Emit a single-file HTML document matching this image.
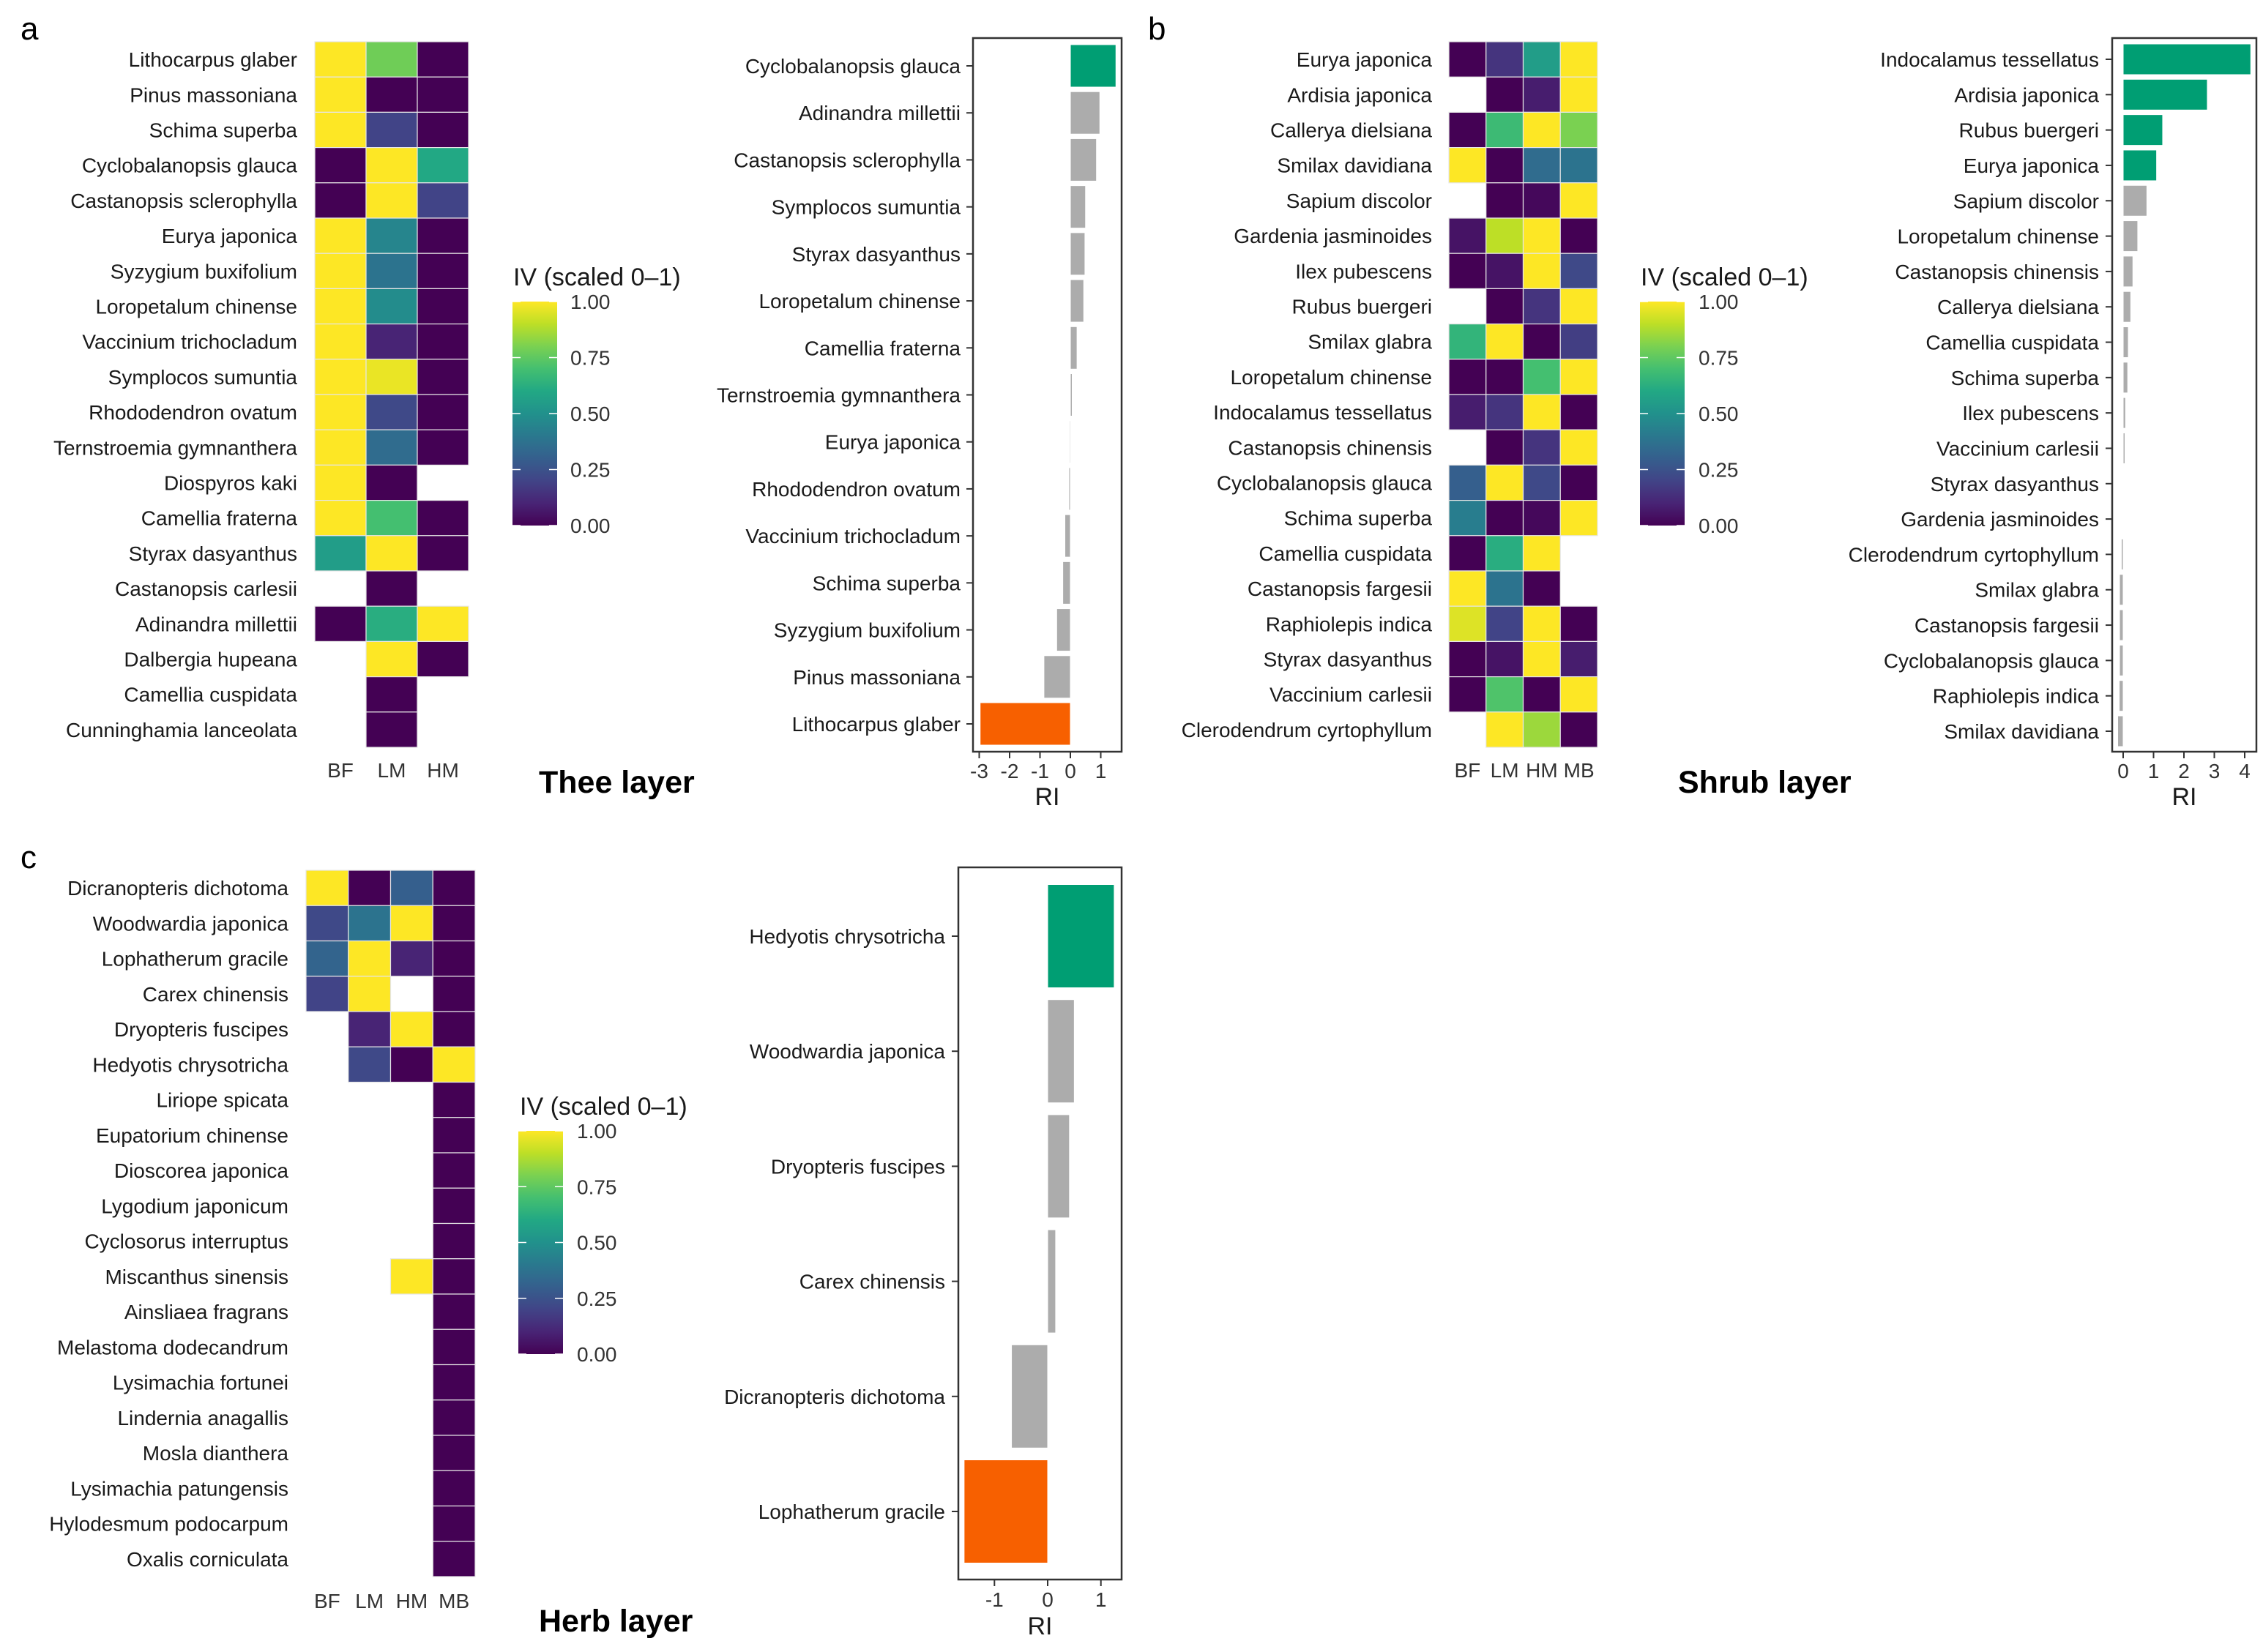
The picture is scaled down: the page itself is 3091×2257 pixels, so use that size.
<!DOCTYPE html>
<html><head><meta charset="utf-8"><style>
html,body{margin:0;padding:0;background:#fff}
svg{display:block;font-family:"Liberation Sans",Arial,sans-serif}
</style></head><body>
<svg id="fig" width="3091" height="2257" viewBox="0 0 3091 2257"></svg>
<script>
// ---------- Data ----------
const treeSpecies=["Lithocarpus glaber","Pinus massoniana","Schima superba","Cyclobalanopsis glauca","Castanopsis sclerophylla","Eurya japonica","Syzygium buxifolium","Loropetalum chinense","Vaccinium trichocladum","Symplocos sumuntia","Rhododendron ovatum","Ternstroemia gymnanthera","Diospyros kaki","Camellia fraterna","Styrax dasyanthus","Castanopsis carlesii","Adinandra millettii","Dalbergia hupeana","Camellia cuspidata","Cunninghamia lanceolata"];
const treeCols=["BF","LM","HM"];
const treeIV=[[1,0.78,0],[1,0,0],[1,0.2,0],[0,1,0.6],[0,1,0.2],[1,0.45,0],[1,0.38,0],[1,0.48,0],[1,0.1,0],[1,0.97,0],[1,0.22,0],[1,0.35,0],[1,0,null],[1,0.7,0],[0.55,1,0],[null,0,null],[0,0.62,1],[null,1,0],[null,0,null],[null,0,null]];
const treeRISpecies=["Cyclobalanopsis glauca","Adinandra millettii","Castanopsis sclerophylla","Symplocos sumuntia","Styrax dasyanthus","Loropetalum chinense","Camellia fraterna","Ternstroemia gymnanthera","Eurya japonica","Rhododendron ovatum","Vaccinium trichocladum","Schima superba","Syzygium buxifolium","Pinus massoniana","Lithocarpus glaber"];
const treeRI=[1.5,0.97,0.86,0.5,0.48,0.44,0.22,0.06,-0.03,-0.05,-0.18,-0.25,-0.45,-0.87,-2.97];
const treeTicks=[-3,-2,-1,0,1];

const shrubSpecies=["Eurya japonica","Ardisia japonica","Callerya dielsiana","Smilax davidiana","Sapium discolor","Gardenia jasminoides","Ilex pubescens","Rubus buergeri","Smilax glabra","Loropetalum chinense","Indocalamus tessellatus","Castanopsis chinensis","Cyclobalanopsis glauca","Schima superba","Camellia cuspidata","Castanopsis fargesii","Raphiolepis indica","Styrax dasyanthus","Vaccinium carlesii","Clerodendrum cyrtophyllum"];
const shrubCols=["BF","LM","HM","MB"];
const shrubIV=[[0,0.15,0.55,1],[null,0,0.08,1],[0,0.68,1,0.8],[1,0,0.35,0.38],[null,0,0.02,1],[0.05,0.9,1,0],[0,0.05,1,0.22],[null,0,0.15,1],[0.65,1,0,0.18],[0,0,0.7,1],[0.08,0.15,1,0],[null,0,0.15,1],[0.3,1,0.22,0],[0.42,0,0.02,1],[0,0.62,1,null],[1,0.38,0,null],[0.95,0.2,1,0],[0,0.05,1,0.08],[0,0.72,0,1],[null,1,0.85,0]];
const shrubRISpecies=["Indocalamus tessellatus","Ardisia japonica","Rubus buergeri","Eurya japonica","Sapium discolor","Loropetalum chinense","Castanopsis chinensis","Callerya dielsiana","Camellia cuspidata","Schima superba","Ilex pubescens","Vaccinium carlesii","Styrax dasyanthus","Gardenia jasminoides","Clerodendrum cyrtophyllum","Smilax glabra","Castanopsis fargesii","Cyclobalanopsis glauca","Raphiolepis indica","Smilax davidiana"];
const shrubRI=[4.2,2.77,1.3,1.1,0.78,0.48,0.32,0.25,0.17,0.15,0.08,0.06,0.02,0.01,-0.06,-0.12,-0.12,-0.12,-0.13,-0.18];
const shrubTicks=[0,1,2,3,4];

const herbSpecies=["Dicranopteris dichotoma","Woodwardia japonica","Lophatherum gracile","Carex chinensis","Dryopteris fuscipes","Hedyotis chrysotricha","Liriope spicata","Eupatorium chinense","Dioscorea japonica","Lygodium japonicum","Cyclosorus interruptus","Miscanthus sinensis","Ainsliaea fragrans","Melastoma dodecandrum","Lysimachia fortunei","Lindernia anagallis","Mosla dianthera","Lysimachia patungensis","Hylodesmum podocarpum","Oxalis corniculata"];
const herbCols=["BF","LM","HM","MB"];
const herbIV=[[1,0,0.3,0],[0.22,0.38,1,0],[0.32,1,0.1,0],[0.2,1,null,0],[null,0.1,1,0],[null,0.22,0,1],[null,null,null,0],[null,null,null,0],[null,null,null,0],[null,null,null,0],[null,null,null,0],[null,null,1,0],[null,null,null,0],[null,null,null,0],[null,null,null,0],[null,null,null,0],[null,null,null,0],[null,null,null,0],[null,null,null,0],[null,null,null,0]];
const herbRISpecies=["Hedyotis chrysotricha","Woodwardia japonica","Dryopteris fuscipes","Carex chinensis","Dicranopteris dichotoma","Lophatherum gracile"];
const herbRI=[1.25,0.5,0.41,0.15,-0.68,-1.57];
const herbTicks=[-1,0,1];
const legendTicks=["0.00","0.25","0.50","0.75","1.00"];

// ---------- Helpers ----------
const NS="http://www.w3.org/2000/svg";
const svg=document.getElementById('fig');
function mk(tag,attrs,parent,text){const e=document.createElementNS(NS,tag);for(const k in attrs)e.setAttribute(k,attrs[k]);if(text!==undefined)e.textContent=text;(parent||svg).appendChild(e);return e;}
const vstops=["#440154","#482475","#414487","#355f8d","#2a788e","#21918c","#22a884","#44bf70","#7ad151","#bddf26","#fde725"];
function hex(h){return [1,3,5].map(i=>parseInt(h.substr(i,2),16));}
function viridis(t){t=Math.max(0,Math.min(1,t));const p=t*10,i=Math.min(9,Math.floor(p)),f=p-i;const a=hex(vstops[i]),b=hex(vstops[i+1]);return 'rgb('+a.map((v,k)=>Math.round(v+(b[k]-v)*f)).join(',')+')';}

function heatmap(name,species,cols,vals,x0,x1,y0,y1,labelX,colLabelY){
  const g=mk('g',{},svg);
  const cw=(x1-x0)/cols.length,rh=(y1-y0)/species.length;
  species.forEach((s,r)=>{
    const t=mk('text',{x:labelX,y:y0+rh*(r+0.5)+10,'text-anchor':'end','font-size':28,fill:'#1a1a1a'},g,s);
    
    cols.forEach((c,j)=>{const v=vals[r][j];if(v===null)return;
      const rc=mk('rect',{x:x0+cw*j,y:y0+rh*r,width:cw,height:rh,fill:viridis(v),stroke:'#e6e6e6','stroke-width':1.2},g);
      });
  });
  cols.forEach((c,j)=>{const t=mk('text',{x:x0+cw*(j+0.5),y:colLabelY,'text-anchor':'middle','font-size':28,fill:'#333'},g,c);
    });
}

function legend(name,tx,ty,bx,by0,by1,lx){
  const g=mk('g',{},svg);
  const t=mk('text',{x:tx,y:ty,'font-size':34,fill:'#1a1a1a'},g,'IV (scaled 0–1)');
  
  const id='grad'+name;const d=mk('defs',{},g);const lg=mk('linearGradient',{id:id,x1:0,y1:1,x2:0,y2:0},d);
  for(let i=0;i<=20;i++)mk('stop',{offset:(i/20),'stop-color':viridis(i/20)},lg);
  const r=mk('rect',{x:bx,y:by0,width:61,height:by1-by0,fill:'url(#'+id+')'},g);
  
  legendTicks.forEach((lab)=>{const y=by1-(by1-by0)*(+lab);
    mk('line',{x1:bx,x2:bx+11,y1:y,y2:y,stroke:'#fff','stroke-width':1.5},g);
    mk('line',{x1:bx+50,x2:bx+61,y1:y,y2:y,stroke:'#fff','stroke-width':1.5},g);
    const tt=mk('text',{x:lx,y:y+10,'font-size':28,fill:'#333'},g,lab);});
}

function barchart(name,species,vals,ticks,bx0,bx1,by0,by1,zeroX,unit,c0,c1,barH,labelX,tickY,titleY){
  const g=mk('g',{},svg);
  const xs=v=>zeroX+v*unit;
  const step=(c1-c0)/(species.length-1);
  species.forEach((s,i)=>{const cy=c0+step*i,v=vals[i];
    const col=v>=1?'#009e73':(v<=-1?'#f76000':'#acacac');
    const x=Math.min(xs(0),xs(v)),w=Math.abs(xs(v)-xs(0));
    const b=mk('rect',{x:x,y:cy-barH/2,width:Math.max(w,1),height:barH,fill:col,stroke:'#fff','stroke-width':1},g);
    
    mk('line',{x1:bx0-9,x2:bx0,y1:cy,y2:cy,stroke:'#333','stroke-width':2},g);
    const t=mk('text',{x:labelX,y:cy+10,'text-anchor':'end','font-size':28,fill:'#1a1a1a'},g,s);
    
  });
  const fr=mk('rect',{x:bx0,y:by0,width:bx1-bx0,height:by1-by0,fill:'none',stroke:'#333','stroke-width':2.5},g);
  
  ticks.forEach(tk=>{mk('line',{x1:xs(tk),x2:xs(tk),y1:by1,y2:by1+9,stroke:'#333','stroke-width':2},g);
    const t=mk('text',{x:xs(tk),y:tickY,'text-anchor':'middle','font-size':28,fill:'#333'},g,tk<0?'-'+Math.abs(tk):String(tk));
    });
  const at=mk('text',{x:(bx0+bx1)/2,y:titleY,'text-anchor':'middle','font-size':34,fill:'#1a1a1a'},g,'RI');
  
}
function label(txt,x,y,size,bold,name){const t=mk('text',{x:x,y:y,'font-size':size,'font-weight':bold?'bold':'normal',fill:'#000'},svg,txt);
  }

// ---------- Panel a ----------
label('a',28,54,44,false,'panel-a-letter');
heatmap('tree',treeSpecies,treeCols,treeIV,430,640,57,1021,406,1062);
legend('tree',701,390,700,412,718,779);
label('Thee layer',736,1083,43,true,'tree-layer-title');
barchart('tree',treeRISpecies,treeRI,treeTicks,1329,1532,52,1027,1462,41.5,90,989,58,1312,1063,1100);

// ---------- Panel b ----------
label('b',1568,54,44,false,'panel-b-letter');
heatmap('shrub',shrubSpecies,shrubCols,shrubIV,1979,2182,57,1021,1956,1062);
legend('shrub',2241,390,2240,412,718,2320);
label('Shrub layer',2292,1083,43,true,'shrub-layer-title');
barchart('shrub',shrubRISpecies,shrubRI,shrubTicks,2885,3082,52,1027,2900,41.5,81,999,42,2867,1063,1100);

// ---------- Panel c ----------
label('c',28,1186,44,false,'panel-c-letter');
heatmap('herb',herbSpecies,herbCols,herbIV,418,649,1189,2154,394,2197);
legend('herb',710,1523,708,1545,1850,788);
label('Herb layer',736,2229,43,true,'herb-layer-title');
barchart('herb',herbRISpecies,herbRI,herbTicks,1309,1532,1185,2158,1431,72.7,1279,2065,141,1291,2195,2233);
</script>
</body></html>
